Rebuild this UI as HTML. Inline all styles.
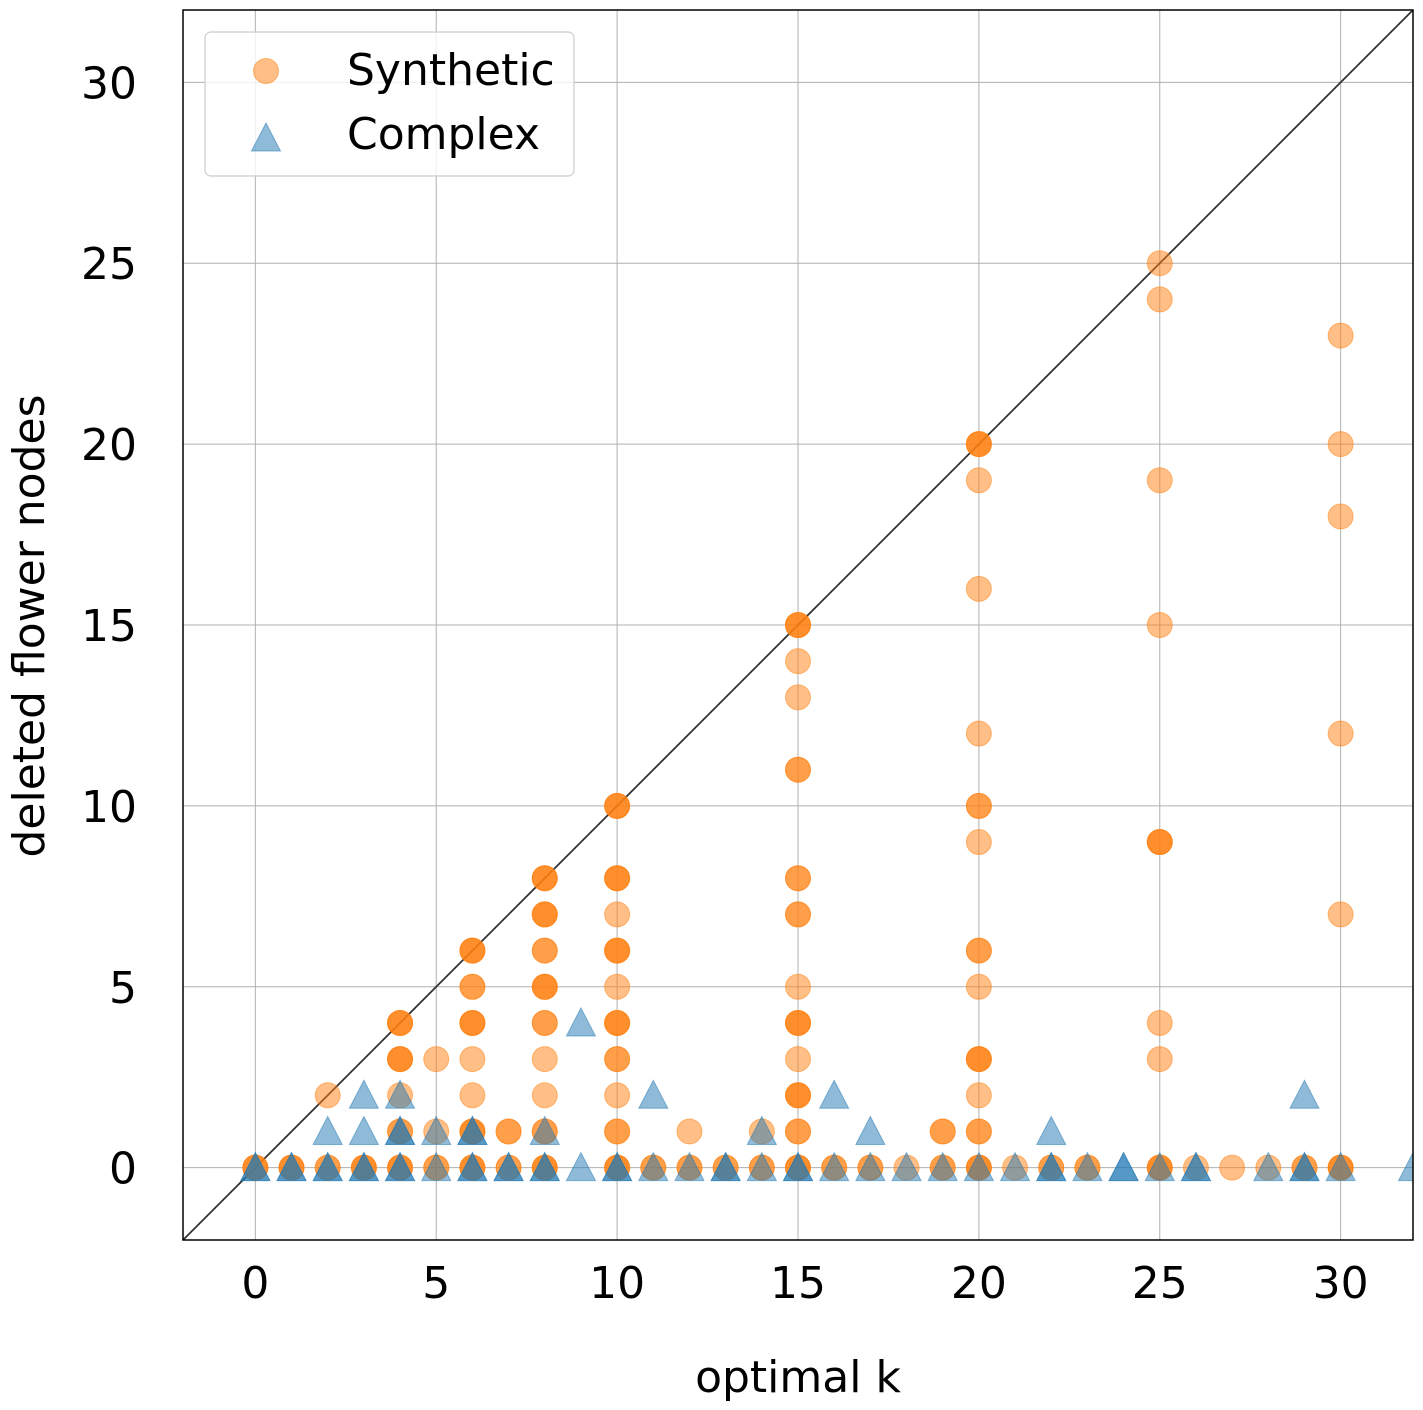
<!DOCTYPE html>
<html><head><meta charset="utf-8">
<style>
html,body{margin:0;padding:0;background:#fff;}
svg{display:block;font-family:"DejaVu Sans","Liberation Sans",sans-serif;}
</style></head>
<body>
<svg id="chart" width="1423" height="1410" viewBox="0 0 1423 1410">
  <defs><clipPath id="clip"><rect x="183" y="10" width="1230" height="1230"/></clipPath></defs>
  <g id="grid"></g>
  <g id="diag" clip-path="url(#clip)"></g>
  <g id="syn" clip-path="url(#clip)"></g>
  <g id="cpx" clip-path="url(#clip)"></g>
  <rect x="183" y="10" width="1230" height="1230" fill="none" stroke="#000" stroke-width="1.5"/>
  <g id="ticks"></g>
  <text x="798" y="1392" text-anchor="middle" font-size="44">optimal k</text>
  <text transform="translate(44,626) rotate(-90)" text-anchor="middle" font-size="44">deleted flower nodes</text>
  <g>
    <rect x="205" y="32" width="369" height="144" rx="6" fill="#fff" fill-opacity="0.8" stroke="#ccc" stroke-width="1.2"/>
    <circle cx="266" cy="71" r="12.5" fill="#ff7f0e" fill-opacity="0.5" stroke="#ff7f0e" stroke-opacity="0.5"/>
    <text x="347" y="85" font-size="44">Synthetic</text>
    <polygon points="266,123 280.5,151 251.5,151" fill="#1f77b4" fill-opacity="0.5" stroke="#1f77b4" stroke-opacity="0.5"/>
    <text x="347" y="149" font-size="44">Complex</text>
  </g>
</svg>
<script>
const xTicks = [0,5,10,15,20,25,30];
const yTicks = [0,5,10,15,20,25,30];
const synX = [
0,0,0,
1,1,1,
2,2,2,
3,3,3,
4,4,4,4,4,4,4,4,4,4,4,4,
5,5,5,5,
6,6,6,6,6,6,6,6,6,6,6,6,6,6,6,6,
7,7,7,7,
8,8,8,8,8,8,8,8,8,8,8,8,8,8,8,8,8,8,8,8,
10,10,10,10,10,10,10,10,10,10,10,10,10,10,10,10,10,10,10,10,10,10,
11,11,
12,12,12,
13,13,
14,14,14,
15,15,15,15,15,15,15,15,15,15,15,15,15,15,15,15,15,15,15,15,15,15,15,15,
16,16,
17,17,
18,
19,19,19,19,
20,20,20,20,20,20,20,20,20,20,20,20,20,20,20,20,20,20,20,20,20,
21,
22,22,
23,23,
25,25,25,25,25,25,25,25,25,25,25,25,
26,
27,
28,
29,29,
30,30,30,30,30,30,30,30
];
const synY = [
0,0,0,
0,0,0,
0,0,2,
0,0,0,
0,0,0,1,1,2,3,3,3,4,4,4,
0,0,1,3,
0,0,0,1,1,1,2,3,4,4,4,5,5,6,6,6,
0,0,1,1,
0,0,0,1,1,2,3,4,4,5,5,5,6,6,7,7,7,8,8,8,
0,0,0,1,1,2,3,3,4,4,4,5,6,6,6,7,8,8,8,10,10,10,
0,0,
0,0,1,
0,0,
0,0,1,
0,0,0,1,1,2,2,2,3,4,4,4,5,7,7,8,8,11,11,13,14,15,15,15,
0,0,
0,0,
0,
0,0,1,1,
0,0,0,1,1,2,3,3,3,5,6,6,9,10,10,12,16,19,20,20,20,
0,
0,0,
0,0,
0,0,0,3,4,9,9,9,15,19,24,25,
0,
0,
0,
0,0,
0,0,0,7,12,18,20,23
];
const cpxX = [0,0,1,1,2,2,2,3,3,3,3,4,4,4,4,4,5,5,6,6,6,6,7,7,8,8,8,9,9,10,10,11,11,12,13,13,14,14,15,15,16,16,17,17,18,19,20,21,22,22,22,23,24,24,25,26,26,28,29,29,29,30,32];
const cpxY = [0,0,0,0,0,0,1,0,0,1,2,0,0,1,1,2,0,1,0,0,1,1,0,0,0,0,1,0,4,0,0,0,2,0,0,0,0,1,0,0,0,2,0,1,0,0,0,0,0,0,1,0,0,0,0,0,0,0,0,0,2,0,0];

const NS = "http://www.w3.org/2000/svg";
const L=183,T=10,W=1230,H=1230,XMIN=-2,XMAX=32,YMIN=-2,YMAX=32;
function sx(v){return L+(v-XMIN)/(XMAX-XMIN)*W;}
function sy(v){return T+H-(v-YMIN)/(YMAX-YMIN)*H;}
function mk(tag,attrs,parent){const e=document.createElementNS(NS,tag);for(const k in attrs)e.setAttribute(k,attrs[k]);parent.appendChild(e);return e;}

const grid=document.getElementById('grid'), ticks=document.getElementById('ticks');
xTicks.forEach(t=>{
  const l=mk('line',{x1:sx(t),x2:sx(t),y1:T,y2:T+H,stroke:'#b0b0b0','stroke-width':1},grid);
  
  
  const tx=mk('text',{x:sx(t),y:T+H+58,'text-anchor':'middle','font-size':44},ticks);
  tx.textContent=t;
  
  
});
yTicks.forEach(t=>{
  const l=mk('line',{x1:L,x2:L+W,y1:sy(t),y2:sy(t),stroke:'#b0b0b0','stroke-width':1},grid);
  
  
  const tx=mk('text',{x:L-46,y:sy(t)+16,'text-anchor':'end','font-size':44},ticks);
  tx.textContent=t;
  
  
});
const d=mk('line',{x1:sx(XMIN),y1:sy(YMIN),x2:sx(XMAX),y2:sy(YMAX),stroke:'#333','stroke-width':1.8},document.getElementById('diag'));



const syn=document.getElementById('syn');
synX.forEach((x,i)=>{
  const c=mk('circle',{cx:sx(x),cy:sy(synY[i]),r:12.5,fill:'#ff7f0e','fill-opacity':0.5,stroke:'#ff7f0e','stroke-opacity':0.5},syn);
  
  
});
const cpx=document.getElementById('cpx');
cpxX.forEach((x,i)=>{
  const cx=sx(x),cy=sy(cpxY[i]);
  const p=mk('polygon',{points:`${cx},${cy-15} ${cx+14.5},${cy+13} ${cx-14.5},${cy+13}`,fill:'#1f77b4','fill-opacity':0.5,stroke:'#1f77b4','stroke-opacity':0.5},cpx);
  
  
});
</script>
</body></html>
